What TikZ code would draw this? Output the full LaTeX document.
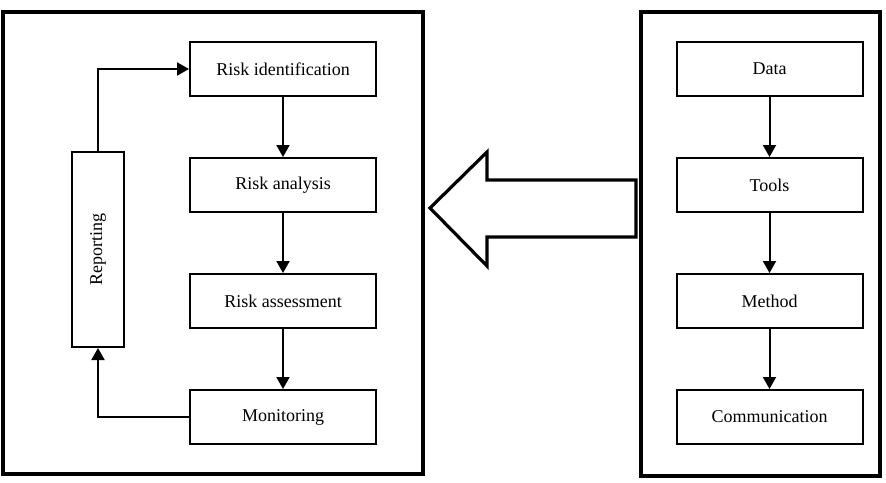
\documentclass[tikz,border=0pt]{standalone}
\usepackage{fontspec}
\setmainfont{Liberation Serif}
\usetikzlibrary{arrows.meta,positioning}

\begin{document}
\begin{tikzpicture}[
  x=0.5pt, y=-0.5pt,
  node distance=30pt,
  box/.style={rectangle, draw=black, line width=1pt, fill=white,
              minimum width=93pt, minimum height=27pt, align=center,
              font=\fontsize{9}{11}\selectfont},
  frame/.style={rectangle, draw=black, line width=1.6pt, inner sep=0pt},
  arr/.style={-{Triangle[length=6pt,width=6.5pt]}, line width=1pt},
  bigarrow/.style={draw=black, line width=1.6pt, line join=miter}]
  \useasboundingbox (0,0) rectangle (886,482);
  \node[frame, minimum width=210pt, minimum height=231pt] (leftframe) at (213,243) {};
  \node[frame, minimum width=119.5pt, minimum height=232pt] (rightframe) at (760.5,244) {};
  % risk process
  \node[box] (ident) at (283,69) {Risk identification};
  \node[box, below=of ident] (analysis) {Risk analysis};
  \node[box, below=of analysis] (assess) {Risk assessment};
  \node[box, below=of assess] (monitor) {Monitoring};
  \node[box, minimum width=26pt, minimum height=97.5pt] (report) at (98,249.5) {\rotatebox{90}{Reporting}};
  % inputs
  \node[box] (data) at (769.5,69) {Data};
  \node[box, below=of data] (tools) {Tools};
  \node[box, below=of tools] (method) {Method};
  \node[box, below=of method] (comm) {Communication};
  \draw[arr] (ident) -- (analysis);
  \draw[arr] (analysis) -- (assess);
  \draw[arr] (assess) -- (monitor);
  \draw[arr] (monitor.west) -| (report.south);
  \draw[arr] (report.north) |- (ident.west);
  \draw[arr] (data) -- (tools);
  \draw[arr] (tools) -- (method);
  \draw[arr] (method) -- (comm);
  % big arrow
  \draw[bigarrow] (636,180) -- (487,180) -- (487,152) -- (430,208) -- (487,266)
    -- (487,237) -- (636,237) -- cycle;
\end{tikzpicture}
\end{document}
